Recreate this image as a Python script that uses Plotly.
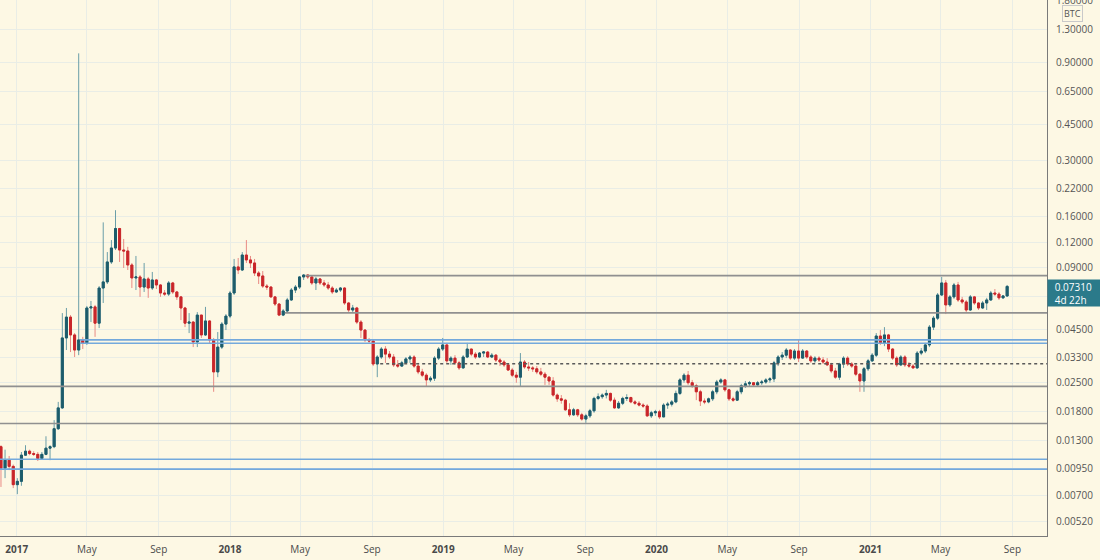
import math
import pandas as pd
import plotly.graph_objects as go

# ---------------- data (weekly ETH/BTC candles) ----------------
first_week = "2016-12-05"
first_open = 0.0121

closes = [
    0.0095, 0.0104, 0.0097, 0.0079, 0.0082, 0.0110, 0.0115, 0.0112, 0.0111, 0.0106,
    0.0111, 0.0119, 0.0121, 0.0148, 0.0187, 0.0410, 0.0518, 0.0424, 0.0358, 0.0401,
    0.0388, 0.0574, 0.0581, 0.0484, 0.0718, 0.0769, 0.0962, 0.1125, 0.140, 0.110,
    0.1088, 0.0930, 0.0804, 0.0813, 0.0726, 0.0795, 0.0718, 0.0786, 0.0743, 0.0679,
    0.0671, 0.0760, 0.0687, 0.0650, 0.0574, 0.0484, 0.0490, 0.0392, 0.0530, 0.0424,
    0.0496, 0.0401, 0.0280, 0.0370, 0.0479, 0.0524, 0.0679, 0.0910, 0.0879, 0.104,
    0.0984, 0.0951, 0.0850, 0.0822, 0.0734, 0.0726, 0.0650, 0.0600, 0.0530, 0.0555,
    0.0628, 0.0702, 0.0726, 0.0813, 0.0831, 0.0813, 0.0760, 0.0795, 0.0760, 0.0743,
    0.0718, 0.0687, 0.0702, 0.0718, 0.0607, 0.0561, 0.0574, 0.0490, 0.0448, 0.0401,
    0.0396, 0.0306, 0.0331, 0.0362, 0.0342, 0.0331, 0.0303, 0.0299, 0.0310, 0.0324,
    0.0331, 0.0299, 0.0280, 0.0270, 0.0256, 0.0261, 0.0327, 0.0362, 0.0379, 0.0317,
    0.0327, 0.0310, 0.0293, 0.0331, 0.0362, 0.0342, 0.0331, 0.0346, 0.0350, 0.0331,
    0.0338, 0.0320, 0.0313, 0.0303, 0.0286, 0.0270, 0.0264, 0.0313, 0.0296, 0.0293,
    0.0290, 0.0280, 0.0273, 0.0264, 0.0253, 0.0216, 0.0207, 0.0204, 0.0183, 0.0173,
    0.0183, 0.0173, 0.0165, 0.0171, 0.0181, 0.0208, 0.0212, 0.0216, 0.0220, 0.0204,
    0.0187, 0.0197, 0.0208, 0.0210, 0.0200, 0.0197, 0.0193, 0.0191, 0.0171, 0.0177,
    0.0179, 0.0169, 0.0193, 0.0195, 0.0200, 0.0220, 0.0256, 0.0270, 0.0248, 0.0240,
    0.0224, 0.0202, 0.0200, 0.0207, 0.0224, 0.0250, 0.0256, 0.0229, 0.0207, 0.0204,
    0.0224, 0.0240, 0.0245, 0.0248, 0.0242, 0.0248, 0.0250, 0.0256, 0.0259, 0.0310,
    0.0331, 0.0338, 0.0358, 0.0327, 0.0354, 0.0327, 0.0354, 0.0331, 0.0317, 0.0327,
    0.0320, 0.0313, 0.0303, 0.0283, 0.0264, 0.0306, 0.0327, 0.0306, 0.0299, 0.0273,
    0.0253, 0.0290, 0.0317, 0.0338, 0.0419, 0.0388, 0.0424, 0.0362, 0.0327, 0.0303,
    0.0331, 0.0303, 0.0299, 0.0293, 0.0346, 0.0354, 0.0379, 0.0463, 0.0512, 0.0664,
    0.0760, 0.0594, 0.0650, 0.0743, 0.0628, 0.0614, 0.0561, 0.0650, 0.0607, 0.0574,
    0.0607, 0.0628, 0.0679, 0.0671, 0.0643, 0.0657, 0.0731,
]

highs = [
    0.0123, 0.0117, 0.0109, 0.0099, 0.0085, 0.0114, 0.0123, 0.0117, 0.0115, 0.0114,
    0.0114, 0.0136, 0.0123, 0.0163, 0.0200, 0.0542, 0.0574, 0.0530, 0.0433, 1.00,
    0.0415, 0.0587, 0.0621, 0.0594, 0.0734, 0.150, 0.1075, 0.123, 0.172, 0.141,
    0.1245, 0.114, 0.0951, 0.1029, 0.0831, 0.0951, 0.0813, 0.0860, 0.0795, 0.0751,
    0.0702, 0.0777, 0.0769, 0.0695, 0.0657, 0.0581, 0.0542, 0.0496, 0.0548, 0.0530,
    0.0581, 0.0501, 0.0410, 0.0438, 0.0490, 0.0536, 0.0695, 0.0995, 0.1006, 0.1075,
    0.123, 0.1029, 0.0995, 0.0869, 0.0869, 0.0751, 0.0734, 0.0657, 0.0607, 0.0567,
    0.0643, 0.0718, 0.0743, 0.0822, 0.0840, 0.0840, 0.0822, 0.0813, 0.0804, 0.0786,
    0.0769, 0.0734, 0.0718, 0.0726, 0.0726, 0.0614, 0.0594, 0.0581, 0.0501, 0.0453,
    0.0410, 0.0401, 0.0338, 0.0370, 0.0374, 0.0354, 0.0342, 0.0320, 0.0317, 0.0331,
    0.0338, 0.0338, 0.0310, 0.0290, 0.0276, 0.0267, 0.0334, 0.0370, 0.0410, 0.0388,
    0.0334, 0.0338, 0.0317, 0.0338, 0.0388, 0.0358, 0.0350, 0.0350, 0.0354, 0.0354,
    0.0346, 0.0342, 0.0327, 0.0320, 0.0306, 0.0293, 0.0280, 0.0346, 0.0320, 0.0313,
    0.0299, 0.0299, 0.0293, 0.0280, 0.0267, 0.0264, 0.0220, 0.0216, 0.0207, 0.0197,
    0.0187, 0.0185, 0.0177, 0.0175, 0.0185, 0.0212, 0.0220, 0.0220, 0.0229, 0.0222,
    0.0210, 0.0202, 0.0212, 0.0218, 0.0212, 0.0204, 0.0202, 0.0197, 0.0195, 0.0181,
    0.0183, 0.0183, 0.0197, 0.0200, 0.0204, 0.0227, 0.0261, 0.0276, 0.0283, 0.0256,
    0.0245, 0.0229, 0.0208, 0.0210, 0.0229, 0.0256, 0.0261, 0.0259, 0.0232, 0.0212,
    0.0229, 0.0245, 0.0253, 0.0253, 0.0250, 0.0253, 0.0256, 0.0261, 0.0264, 0.0317,
    0.0338, 0.0350, 0.0366, 0.0362, 0.0362, 0.0401, 0.0362, 0.0358, 0.0338, 0.0334,
    0.0334, 0.0331, 0.0327, 0.0310, 0.0293, 0.0310, 0.0334, 0.0334, 0.0313, 0.0306,
    0.0276, 0.0296, 0.0324, 0.0346, 0.0433, 0.0448, 0.0463, 0.0429, 0.0366, 0.0334,
    0.0338, 0.0338, 0.0313, 0.0306, 0.0354, 0.0366, 0.0388, 0.0474, 0.0524, 0.0679,
    0.0813, 0.0786, 0.0664, 0.0760, 0.0769, 0.0650, 0.0628, 0.0664, 0.0657, 0.0614,
    0.0621, 0.0643, 0.0695, 0.0710, 0.0687, 0.0664, 0.0743,
]

lows = [
    0.0077, 0.0085, 0.0093, 0.0076, 0.0071, 0.0078, 0.0109, 0.0110, 0.0109, 0.0103,
    0.0105, 0.0110, 0.0104, 0.0119, 0.0146, 0.0185, 0.0358, 0.0350, 0.0331, 0.0338,
    0.0362, 0.0379, 0.0490, 0.0415, 0.0458, 0.0607, 0.0751, 0.0941, 0.110, 0.0962,
    0.0899, 0.0879, 0.0718, 0.0702, 0.0650, 0.0687, 0.0643, 0.0702, 0.0710, 0.0650,
    0.0657, 0.0657, 0.0671, 0.0628, 0.0501, 0.0463, 0.0433, 0.0370, 0.0370, 0.0410,
    0.0419, 0.0383, 0.0224, 0.0264, 0.0362, 0.0448, 0.0512, 0.0664, 0.0840, 0.0869,
    0.0951, 0.0899, 0.0822, 0.0751, 0.0718, 0.0702, 0.0643, 0.0587, 0.0524, 0.0524,
    0.0542, 0.0621, 0.0679, 0.0710, 0.0786, 0.0795, 0.0743, 0.0702, 0.0743, 0.0726,
    0.0702, 0.0671, 0.0679, 0.0687, 0.0594, 0.0548, 0.0542, 0.0479, 0.0410, 0.0392,
    0.0388, 0.0299, 0.0264, 0.0324, 0.0310, 0.0324, 0.0296, 0.0293, 0.0296, 0.0306,
    0.0310, 0.0293, 0.0273, 0.0264, 0.0237, 0.0250, 0.0253, 0.0320, 0.0354, 0.0310,
    0.0303, 0.0303, 0.0286, 0.0290, 0.0327, 0.0334, 0.0324, 0.0327, 0.0331, 0.0327,
    0.0327, 0.0313, 0.0299, 0.0296, 0.0283, 0.0264, 0.0248, 0.0237, 0.0290, 0.0283,
    0.0280, 0.0273, 0.0267, 0.0242, 0.0242, 0.0212, 0.0200, 0.0196, 0.0181, 0.0169,
    0.0171, 0.0169, 0.0162, 0.0158, 0.0167, 0.0177, 0.0204, 0.0207, 0.0208, 0.0200,
    0.0185, 0.0185, 0.0193, 0.0202, 0.0197, 0.0193, 0.0190, 0.0187, 0.0169, 0.0167,
    0.0171, 0.0165, 0.0169, 0.0185, 0.0190, 0.0197, 0.0216, 0.0248, 0.0242, 0.0234,
    0.0204, 0.0191, 0.0195, 0.0197, 0.0202, 0.0218, 0.0245, 0.0224, 0.0202, 0.0200,
    0.0202, 0.0218, 0.0234, 0.0237, 0.0240, 0.0240, 0.0242, 0.0245, 0.0248, 0.0250,
    0.0299, 0.0320, 0.0327, 0.0320, 0.0320, 0.0313, 0.0324, 0.0324, 0.0310, 0.0310,
    0.0313, 0.0306, 0.0299, 0.0276, 0.0259, 0.0256, 0.0293, 0.0299, 0.0293, 0.0267,
    0.0224, 0.0224, 0.0283, 0.0313, 0.0331, 0.0379, 0.0374, 0.0350, 0.0320, 0.0296,
    0.0299, 0.0296, 0.0293, 0.0290, 0.0290, 0.0338, 0.0346, 0.0370, 0.0448, 0.0501,
    0.0657, 0.0536, 0.0581, 0.0636, 0.0614, 0.0600, 0.0542, 0.0555, 0.0594, 0.0561,
    0.0567, 0.0561, 0.0621, 0.0657, 0.0628, 0.0636, 0.0650,
]

# horizontal drawn levels
level_values = [0.0825, 0.0543, 0.0401, 0.0386, 0.0307, 0.0238, 0.0157, 0.0105, 0.0094]
level_starts = ["2018-05-10", "2018-04-05", "2017-04-19", "2017-04-19", "2018-09-15",
                "2016-11-01", "2016-11-01", "2016-11-01", "2016-11-01"]
level_kinds = ["gray", "gray", "blue", "blue", "dot", "gray", "gray", "blue", "blue"]

y_ticks = [0.0052, 0.007, 0.0095, 0.013, 0.018, 0.025, 0.033, 0.045, 0.065, 0.09,
           0.12, 0.16, 0.22, 0.30, 0.45, 0.65, 0.90, 1.30, 1.80]
y_hidden_label = 0.065   # hidden behind the last-price tag in the reference
x_tick_dates = ["2017-01-01", "2017-05-01", "2017-09-01", "2018-01-01", "2018-05-01",
                "2018-09-01", "2019-01-01", "2019-05-01", "2019-09-01", "2020-01-01",
                "2020-05-01", "2020-09-01", "2021-01-01", "2021-05-01", "2021-09-01"]
x_tick_labels = ["<b>2017</b>", "May", "Sep", "<b>2018</b>", "May", "Sep", "<b>2019</b>",
                 "May", "Sep", "<b>2020</b>", "May", "Sep", "<b>2021</b>", "May", "Sep"]

last_price = 0.0731
countdown = "4d 22h"

# ---------------- derived ----------------
weeks = pd.date_range(first_week, periods=len(closes), freq="7D")
opens = [first_open] + closes[:-1]
highs = [max(h, o, c) for h, o, c in zip(highs, opens, closes)]
lows = [min(l, o, c) for l, o, c in zip(lows, opens, closes)]
body_hi = [max(o, c) for o, c in zip(opens, closes)]
body_lo = [min(o, c) for o, c in zip(opens, closes)]

BG = "#fdf8e4"
UP_BODY, UP_WICK = "#1d5c6b", "#6a9ea8"
DN_BODY, DN_WICK = "#c8262a", "#e98a84"

fig = go.Figure()

# wicks (lighter)
fig.add_trace(go.Candlestick(
    x=weeks, open=opens, high=highs, low=lows, close=closes,
    increasing=dict(line=dict(color=UP_WICK, width=1), fillcolor=UP_WICK),
    decreasing=dict(line=dict(color=DN_WICK, width=1), fillcolor=DN_WICK),
    hoverinfo="skip", showlegend=False,
))
# bodies (solid)
fig.add_trace(go.Candlestick(
    x=weeks, open=opens, high=body_hi, low=body_lo, close=closes,
    increasing=dict(line=dict(color=UP_BODY, width=1), fillcolor=UP_BODY),
    decreasing=dict(line=dict(color=DN_BODY, width=1), fillcolor=DN_BODY),
    hoverinfo="skip", showlegend=False,
))

styles = {
    "gray": dict(color="#909090", width=1.6),
    "blue": dict(color="#74a9dc", width=1.6),
    "dot": dict(color="#5a5a5a", width=1.5, dash="dot"),
}
for v, s, kind in zip(level_values, level_starts, level_kinds):
    fig.add_trace(go.Scatter(
        x=[s, "2022-06-01"], y=[v, v], mode="lines",
        line=styles[kind], hoverinfo="skip", showlegend=False,
    ))

y_text = ["" if v == y_hidden_label else f"{v:.5f}" for v in y_ticks]

fig.update_layout(
    width=1100, height=560,
    margin=dict(l=0, r=53, t=0, b=24, autoexpand=False),
    paper_bgcolor=BG, plot_bgcolor=BG,
    font=dict(family="Open Sans, Liberation Sans, sans-serif", size=10, color="#555555"),
    showlegend=False,
    xaxis=dict(
        type="date",
        range=["2016-12-03 08:00", "2021-10-30 05:00"],
        rangeslider=dict(visible=False),
        tickmode="array", tickvals=x_tick_dates, ticktext=x_tick_labels,
        showgrid=True, gridcolor="#e9ede6", gridwidth=1,
        showline=True, linecolor="#7a7a7a", linewidth=1,
        ticks="", tickfont=dict(size=10, color="#4a4a4a"),
        ticklabelstandoff=4, automargin=False,
        zeroline=False,
    ),
    yaxis=dict(
        type="log", side="right",
        range=[math.log10(0.00444), math.log10(1.82)],
        tickmode="array", tickvals=y_ticks, ticktext=y_text,
        showgrid=True, gridcolor="#e9ede6", gridwidth=1,
        showline=True, linecolor="#7a7a7a", linewidth=1,
        ticks="", tickfont=dict(size=10, color="#555555"),
        ticklabelstandoff=6, ticklabeloverflow="allow", automargin=False,
        zeroline=False,
    ),
)

# last price tag on the axis
pad = "\u2002\u2009"
fig.add_annotation(
    x=1.0, xref="paper", xanchor="left",
    y=math.log10(last_price), yref="y", yanchor="middle", yshift=-7,
    text=f"{pad}{last_price:.5f}<br>{pad}{countdown}", showarrow=False, align="left",
    width=53, height=26, bgcolor="#2b7a8a", borderpad=0,
    font=dict(color="#ffffff", size=10),
)
# currency label
fig.add_annotation(
    x=1.0248, xref="paper", xanchor="center",
    y=0.975, yref="paper", yanchor="middle",
    text="BTC", showarrow=False, bgcolor=BG, bordercolor="#c9c9c9",
    borderwidth=1, borderpad=1, font=dict(size=9, color="#555555"),
)

fig.write_html("out.html", config={"displayModeBar": False},
               post_script="document.body.style.margin='0';")
